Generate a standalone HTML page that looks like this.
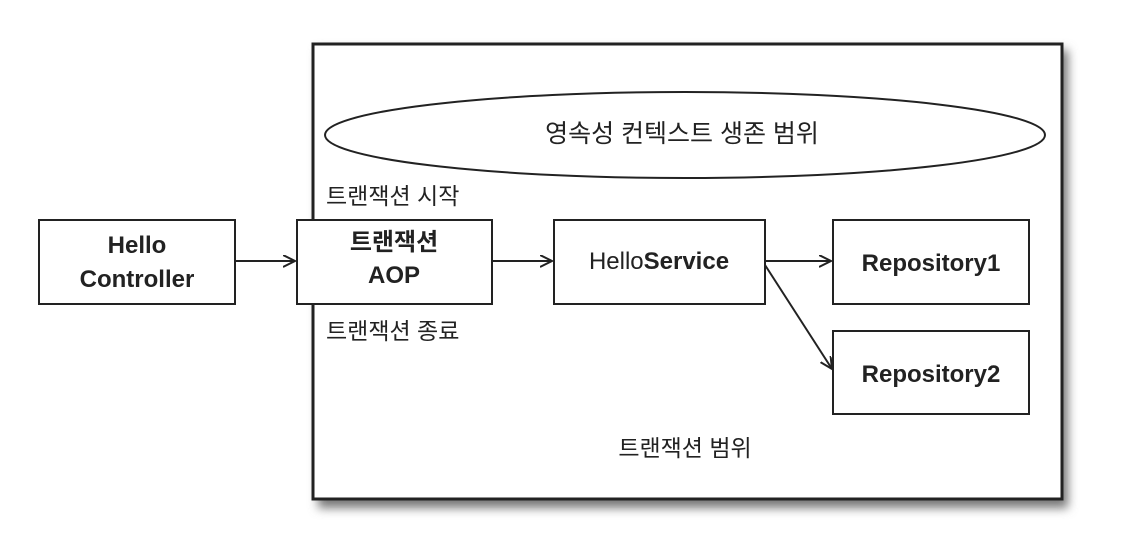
<!DOCTYPE html>
<html><head><meta charset="utf-8"><style>
body{margin:0;background:#fff;}
svg text{font-family:"Liberation Sans","Noto Sans CJK KR","NanumGothic",sans-serif;fill:#222;}
</style></head><body>
<svg width="1132" height="538" viewBox="0 0 1132 538" xmlns="http://www.w3.org/2000/svg">
<defs>
<filter id="sh" x="-5%" y="-5%" width="115%" height="115%"><feGaussianBlur stdDeviation="5"/></filter>
<marker id="ar" markerWidth="14" markerHeight="14" refX="12" refY="6" orient="auto" markerUnits="userSpaceOnUse">
<path d="M0,0 L12,6 L0,12" fill="none" stroke="#222" stroke-width="2"/></marker>
</defs>
<rect x="318" y="50" width="750" height="458" fill="#777" filter="url(#sh)"/>
<rect x="313" y="44" width="749" height="455" fill="#fff" stroke="#222" stroke-width="3"/>
<ellipse cx="685" cy="135" rx="360" ry="43" fill="#fff" stroke="#222" stroke-width="2"/>
<text x="682" y="142" font-size="25" text-anchor="middle">영속성 컨텍스트 생존 범위</text>
<text x="326" y="204" font-size="23">트랜잭션 시작</text>
<text x="326" y="339" font-size="23">트랜잭션 종료</text>
<text x="685" y="456" font-size="23" text-anchor="middle">트랜잭션 범위</text>
<g fill="#fff" stroke="#222" stroke-width="2">
<rect x="39" y="220" width="196" height="84"/>
<rect x="297" y="220" width="195" height="84"/>
<rect x="554" y="220" width="211" height="84"/>
<rect x="833" y="220" width="196" height="84"/>
<rect x="833" y="331" width="196" height="83"/>
</g>
<g font-size="24" font-weight="bold" text-anchor="middle">
<text x="137" y="253">Hello</text>
<text x="137" y="287">Controller</text>
<text x="394" y="250">트랜잭션</text>
<text x="394" y="283">AOP</text>
<text x="931" y="271">Repository1</text>
<text x="931" y="382">Repository2</text>
</g>
<text x="659" y="269" font-size="24" text-anchor="middle">Hello<tspan font-weight="bold">Service</tspan></text>
<g stroke="#222" stroke-width="2" marker-end="url(#ar)">
<line x1="235" y1="261" x2="295" y2="261"/>
<line x1="492" y1="261" x2="552" y2="261"/>
<line x1="765" y1="261" x2="831" y2="261"/>
<line x1="765" y1="265" x2="832" y2="369"/>
</g>
</svg>
</body></html>
